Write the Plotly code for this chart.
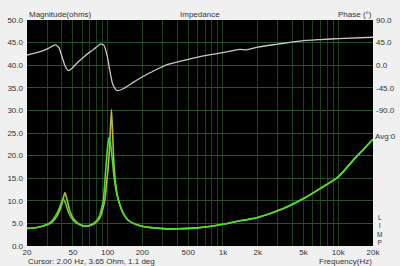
import plotly.graph_objects as go

# Phase curve (degrees)
phase_freq = [20, 26.1, 31, 35, 37.6, 40.2, 43.1, 46, 49.2, 53, 58.1, 64, 70.9, 79, 86.6, 92.5, 98.8, 105.5, 111.5, 121, 138.6, 160, 179.8, 220, 269, 320, 450, 632, 1000, 1400, 1600, 2000, 3000, 4670, 7000, 10000, 20000]
phase_deg = [20.3, 27, 34, 40.3, 35.7, 16.9, -3, -11, -6, 2, 10.4, 19, 27, 35, 42, 40, 20, -16, -39.5, -50.7, -46, -37, -29.5, -18, -8, 0, 9, 17, 25, 31.5, 30.5, 36, 42, 48, 51, 53, 55.7]

# Impedance magnitude, green trace (ohms)
green_freq = [20, 24.4, 30, 33, 36.4, 39, 41, 43, 46, 50.7, 58, 64.4, 70, 76.5, 84.7, 88, 91.9, 94.5, 96.7, 100, 103, 106, 110, 114, 119, 124, 135, 150, 175, 203, 300, 400, 600, 1000, 1400, 1600, 2000, 3340, 5000, 6950, 10000, 13500, 20000]
green_mag = [3.9, 4.1, 4.8, 5.6, 7.2, 9.0, 10.5, 9.6, 7.3, 5.6, 4.65, 4.4, 4.6, 5.1, 6.5, 8.0, 10.2, 14, 17.5, 22, 24, 22.5, 19, 15, 12, 10.2, 7.5, 5.75, 4.8, 4.3, 3.85, 3.8, 4.0, 4.8, 5.6, 5.8, 6.3, 8.3, 10.5, 12.7, 15.3, 19, 23.6]

# Impedance magnitude, yellow trace (ohms)
yellow_freq = [20, 24.4, 30, 33, 36.4, 39, 41, 42.6, 44.5, 47, 51, 58, 64.4, 70, 76.5, 84.7, 90, 95, 98, 101.3, 104.5, 107.9, 110.5, 113, 117, 124, 135, 150, 175, 203, 300, 400, 600, 1000, 1400, 1600, 2000, 3340, 5000, 6950, 10000, 13500, 20000]
yellow_mag = [3.9, 4.1, 4.7, 5.3, 6.6, 8.3, 10.2, 11.8, 10.3, 7.8, 5.9, 4.7, 4.35, 4.5, 4.9, 6.0, 7.8, 10.5, 14, 17.5, 23, 30.2, 25, 19, 14, 10.2, 7.5, 5.75, 4.8, 4.3, 3.85, 3.8, 4.0, 4.8, 5.6, 5.8, 6.3, 8.3, 10.5, 12.7, 15.3, 19, 23.6]

x_ticks = [20, 50, 100, 200, 500, 1000, 2000, 5000, 10000, 20000]
x_tick_text = ["20", "50", "100", "200", "500", "1k", "2k", "5k", "10k", "20k"]
y_ticks = [0, 5, 10, 15, 20, 25, 30, 35, 40, 45, 50]
y_tick_text = ["0.0", "5.0", "10.0", "15.0", "20.0", "25.0", "30.0", "35.0", "40.0", "45.0", "50.0"]
phase_ticks = [90, 45, 0, -45, -90]
phase_tick_text = ["90.0", "45.0", "0.0", "-45.0", "-90.0"]

minor_x = []
for dec in [10, 100, 1000, 10000]:
    for k in range(1, 10):
        v = k * dec
        if 20 <= v <= 20000 and v not in x_ticks:
            minor_x.append(v)

FONT = "Liberation Sans, Arial, sans-serif"
TXT = "#333333"

fig = go.Figure()
fig.add_trace(go.Scatter(x=phase_freq, y=phase_deg, mode="lines", yaxis="y2",
                         line=dict(color="#c8c8c8", width=1.3, shape="spline", smoothing=0.8), hoverinfo="skip"))
fig.add_trace(go.Scatter(x=yellow_freq, y=yellow_mag, mode="lines",
                         line=dict(color="#b8b838", width=1.6, shape="spline", smoothing=0.6), hoverinfo="skip"))
fig.add_trace(go.Scatter(x=green_freq, y=green_mag, mode="lines",
                         line=dict(color="#48e02c", width=1.6, shape="spline", smoothing=0.6), hoverinfo="skip"))

grid_c = "#1d401d"
fig.update_layout(
    width=400, height=266,
    margin=dict(l=27, r=27, t=20, b=20, autoexpand=False),
    paper_bgcolor="#f0f0f0", plot_bgcolor="#000000",
    showlegend=False,
    font=dict(family=FONT, size=8, color=TXT),
    xaxis=dict(type="log", range=[1.30103, 4.30103], tickmode="array", tickvals=x_ticks,
               ticktext=x_tick_text, showgrid=True, gridcolor=grid_c, gridwidth=1, automargin=False,
               minor=dict(tickvals=minor_x, showgrid=True, gridcolor=grid_c, gridwidth=1, ticks=""),
               zeroline=False, ticks="", ticklen=0, tickfont=dict(size=8, color=TXT), showline=False),
    yaxis=dict(range=[0, 50], tickmode="array", tickvals=y_ticks, ticktext=y_tick_text, automargin=False,
               showgrid=True, gridcolor="#2a542a", gridwidth=1, zeroline=False, ticks="",
               tickfont=dict(size=8, color=TXT), ticklabelstandoff=3),
    yaxis2=dict(range=[-360, 90], overlaying="y", side="right", tickmode="array", automargin=False,
                tickvals=phase_ticks, ticktext=phase_tick_text, showgrid=False, zeroline=False,
                ticks="", tickfont=dict(size=8, color=TXT), ticklabelstandoff=2),
)

ann = [
    dict(text="Magnitude(ohms)", x=0.003, y=1.0, xref="paper", yref="paper", xanchor="left", yanchor="bottom", yshift=0),
    dict(text="Impedance", x=0.5, y=1.0, xref="paper", yref="paper", xanchor="center", yanchor="bottom", yshift=0),
    dict(text="Phase (°)", x=1.0, y=1.0, xref="paper", yref="paper", xanchor="right", yanchor="bottom", yshift=0),
    dict(text="Cursor: 2.00 Hz, 3.65 Ohm, 1.1 deg", x=0.0, y=0, xref="paper", yref="paper", xanchor="left", yanchor="top", yshift=-10),
    dict(text="Frequency(Hz)", x=1.0, y=0, xref="paper", yref="paper", xanchor="right", yanchor="top", yshift=-10),
    dict(text="Avg:0", x=1.0, y=24.2, xref="paper", yref="y", xanchor="left", yanchor="middle", xshift=1),
    dict(text="L<br>I<br>M<br>P", x=1.0, y=3.5, xref="paper", yref="y", xanchor="left", yanchor="middle", xshift=3,
         align="center", font=dict(size=6.5, color=TXT)),
]
for a in ann:
    a.setdefault("font", dict(size=8, color=TXT))
    a["showarrow"] = False
    a["borderpad"] = 0
fig.update_layout(annotations=ann)

fig.write_html("out.html")
